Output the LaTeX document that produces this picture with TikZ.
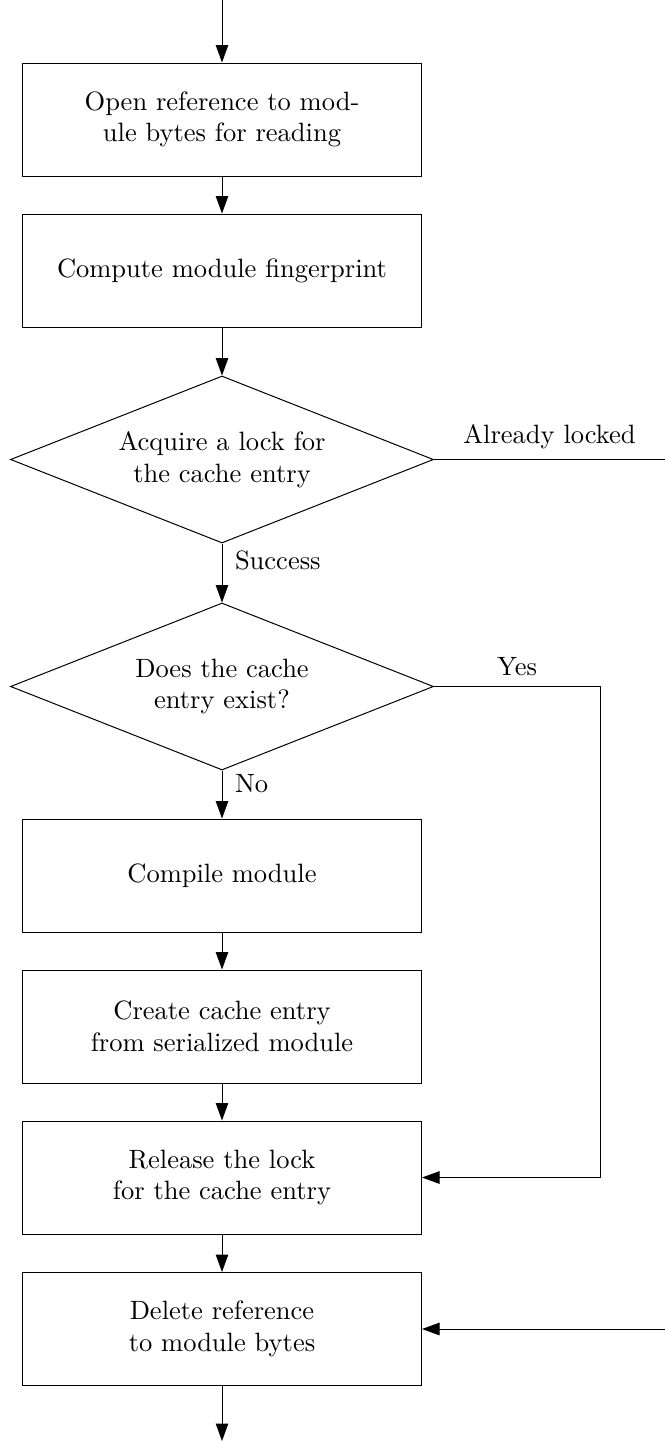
\documentclass[tikz,border=0pt]{standalone}
\usetikzlibrary{shapes.geometric,arrows.meta}
\begin{document}
\begin{tikzpicture}[x=0.4pt,y=-0.4pt,
  every node/.style={font=\fontsize{10.6}{12.7}\selectfont},
  stepbox/.style={draw,rectangle,minimum width=159.6pt,minimum height=45.2pt,align=center,inner sep=0pt},
  decision/.style={draw,diamond,aspect=2.5,minimum width=169.2pt,minimum height=66.8pt,align=center,inner sep=0pt},
  flow/.style={-{Triangle[length=7pt,width=5pt]}},
  lbl/.style={inner sep=0pt}]
\useasboundingbox (0,0) rectangle (665,1441);

% main column of steps
\node[stepbox]  (open)    at (222,119.5)  {Open reference to mod-\\ule bytes for reading};
\node[stepbox]  (finger)  at (222,270.5)  {Compute module fingerprint};
\node[decision] (lock)    at (222,459.5)  {Acquire a lock for\\the cache entry};
\node[decision] (exists)  at (222,686.5)  {Does the cache\\entry exist?};
\node[stepbox]  (compile) at (222,875.5)  {Compile module};
\node[stepbox]  (create)  at (222,1026.5) {Create cache entry\\from serialized module};
\node[stepbox]  (release) at (222,1177.5) {Release the lock\\for the cache entry};
\node[stepbox]  (delete)  at (222,1329)   {Delete reference\\to module bytes};

% loose ends
\coordinate (start)   at (222,0);
\coordinate (finish)  at (222,1441);
\coordinate (lockout) at (665,459.5);
\coordinate (lockin)  at (665,1329);
\coordinate (yescorner) at (600,686.5);

% connectors
\draw[flow] (start) -- (open);
\draw[flow] (open) -- (finger);
\draw[flow] (finger) -- (lock);
\draw[flow] (lock) -- node[lbl,right=5pt,pos=0.28]{Success} (exists);
\draw[flow] (exists) -- node[lbl,right=5pt,pos=0.28]{No} (compile);
\draw[flow] (compile) -- (create);
\draw[flow] (create) -- (release);
\draw[flow] (release) -- (delete);
\draw[flow] (delete) -- (finish);
\draw (lock.east) -- node[lbl,above=4pt]{Already locked} (lockout);
\draw[flow] (exists.east) -- node[lbl,above=4pt]{Yes} (yescorner) |- (release.east);
\draw[flow] (lockin) -- (delete.east);
\end{tikzpicture}
\end{document}
